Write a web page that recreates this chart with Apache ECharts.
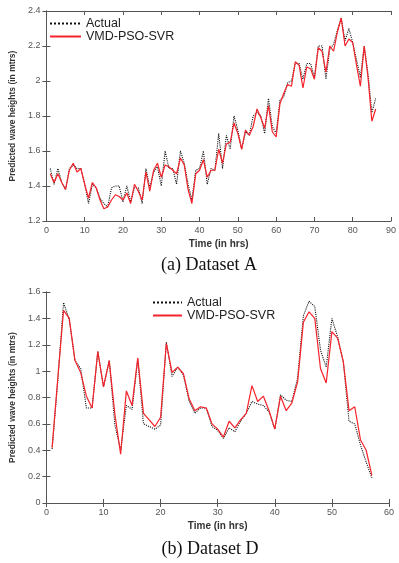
<!DOCTYPE html>
<html>
<head>
<meta charset="utf-8">
<script src="https://cdn.jsdelivr.net/npm/echarts@6/dist/echarts.min.js"></script>
<style>
  html, body { margin: 0; padding: 0; background: #fff; }
  #main { width: 399px; height: 563px; }
</style>
</head>
<body>
<div id="main"></div>
<script>
// Dataset A, hours 1..86
const actualA = [1.50, 1.41, 1.50, 1.42, 1.38, 1.50, 1.52, 1.50, 1.50, 1.41,
  1.30, 1.41, 1.39, 1.33, 1.30, 1.28, 1.39, 1.40, 1.40, 1.31,
  1.40, 1.31, 1.39, 1.39, 1.30, 1.50, 1.39, 1.48, 1.51, 1.40,
  1.60, 1.50, 1.50, 1.41, 1.60, 1.53, 1.41, 1.32, 1.49, 1.50,
  1.60, 1.41, 1.50, 1.49, 1.70, 1.50, 1.69, 1.61, 1.80, 1.72,
  1.61, 1.71, 1.69, 1.80, 1.82, 1.80, 1.70, 1.90, 1.74, 1.70,
  1.89, 1.91, 1.99, 2.00, 2.10, 2.10, 2.01, 2.10, 2.10, 2.02,
  2.20, 2.20, 2.01, 2.18, 2.21, 2.29, 2.36, 2.23, 2.30, 2.22,
  2.12, 2.02, 2.20, 2.04, 1.82, 1.90];
const predA = [1.47, 1.42, 1.47, 1.42, 1.38, 1.49, 1.53, 1.48, 1.50, 1.41,
  1.33, 1.42, 1.39, 1.32, 1.27, 1.28, 1.32, 1.35, 1.34, 1.32,
  1.36, 1.30, 1.41, 1.37, 1.32, 1.48, 1.37, 1.49, 1.53, 1.45,
  1.52, 1.51, 1.49, 1.47, 1.56, 1.52, 1.38, 1.30, 1.47, 1.49,
  1.55, 1.45, 1.49, 1.49, 1.61, 1.53, 1.64, 1.65, 1.76, 1.70,
  1.61, 1.72, 1.69, 1.74, 1.84, 1.79, 1.73, 1.86, 1.71, 1.68,
  1.87, 1.93, 1.98, 1.97, 2.11, 2.09, 1.96, 2.08, 2.07, 2.01,
  2.19, 2.17, 2.05, 2.20, 2.17, 2.28, 2.36, 2.20, 2.24, 2.22,
  2.09, 1.97, 2.20, 2.02, 1.77, 1.84];

// Dataset D, hours 1..57
const actualD = [0.41, 0.93, 1.52, 1.39, 1.08, 1.02, 0.72, 0.72, 1.15, 0.88,
  1.08, 0.59, 0.40, 0.74, 0.71, 1.09, 0.60, 0.58, 0.56, 0.59,
  1.22, 0.96, 1.03, 0.97, 0.77, 0.68, 0.72, 0.72, 0.58, 0.55,
  0.49, 0.57, 0.54, 0.62, 0.68, 0.77, 0.75, 0.74, 0.69, 0.56,
  0.82, 0.78, 0.77, 0.95, 1.42, 1.53, 1.49, 1.16, 1.03, 1.40,
  1.26, 1.07, 0.62, 0.60, 0.44, 0.31, 0.19];
const predD = [0.42, 0.95, 1.46, 1.40, 1.08, 0.99, 0.81, 0.72, 1.15, 0.88,
  1.08, 0.67, 0.37, 0.85, 0.74, 1.10, 0.68, 0.63, 0.58, 0.65,
  1.21, 0.99, 1.03, 0.98, 0.79, 0.70, 0.73, 0.72, 0.60, 0.56,
  0.50, 0.62, 0.57, 0.63, 0.68, 0.89, 0.77, 0.81, 0.70, 0.56,
  0.81, 0.70, 0.76, 0.92, 1.37, 1.45, 1.40, 1.02, 0.91, 1.30,
  1.25, 1.07, 0.70, 0.73, 0.48, 0.40, 0.21];

const seriesNames = ['Actual', 'VMD-PSO-SVR'];
const captions = ['(a) Dataset A', '(b) Dataset D'];
const xNameText = 'Time (in hrs)';
const yNameText = 'Predicted wave heights (in mtrs)';

const toPairs = arr => arr.map((v, i) => [i + 1, v]);

const chart = echarts.init(document.getElementById('main'));

const axisCol = '#555';
const tickFont = { color: '#555', fontSize: 9, fontFamily: 'Liberation Sans' };
const xNameFont = { color: '#333', fontSize: 10, fontWeight: 'bold', fontFamily: 'Liberation Sans' };
const yNameFont = { color: '#333', fontSize: 8.5, fontWeight: 'bold', fontFamily: 'Liberation Sans' };

function xAxes(gridIndex, max) {
  return [
    {
      type: 'value', gridIndex: gridIndex, min: 0, max: max, interval: 10,
      name: xNameText, nameLocation: 'middle', nameGap: 18, nameTextStyle: xNameFont,
      axisLine: { lineStyle: { color: axisCol, width: 1 } },
      axisTick: { inside: true, length: 4, lineStyle: { color: axisCol } },
      axisLabel: Object.assign({ margin: 5 }, tickFont),
      splitLine: { show: false }
    },
    {
      type: 'value', gridIndex: gridIndex, position: 'top', min: 0, max: max, interval: 10,
      axisLine: { lineStyle: { color: axisCol, width: 1 } },
      axisTick: { inside: true, length: 4, lineStyle: { color: axisCol } },
      axisLabel: { show: false },
      splitLine: { show: false }
    }
  ];
}

function yAxes(gridIndex, min, max) {
  return [
    {
      type: 'value', gridIndex: gridIndex, min: min, max: max, interval: 0.2,
      name: yNameText, nameLocation: 'middle', nameGap: 26, nameTextStyle: yNameFont,
      axisLine: { show: true, lineStyle: { color: axisCol, width: 1 } },
      axisTick: { show: true, inside: true, length: 4, lineStyle: { color: axisCol } },
      axisLabel: Object.assign({ margin: 6 }, tickFont),
      splitLine: { show: false }
    },
    {
      type: 'value', gridIndex: gridIndex, position: 'right', min: min, max: max, interval: 0.2,
      axisLine: { show: true, lineStyle: { color: axisCol, width: 1 } },
      axisTick: { show: true, inside: true, length: 4, lineStyle: { color: axisCol } },
      axisLabel: { show: false },
      splitLine: { show: false }
    }
  ];
}

function lineSeries(idx, name, data, isActual) {
  return {
    type: 'line', name: name,
    xAxisIndex: idx * 2, yAxisIndex: idx * 2,
    data: toPairs(data),
    symbol: 'none', animation: false,
    z: isActual ? 2 : 3,
    lineStyle: isActual
      ? { color: '#111', width: 1.1, type: 'dotted' }
      : { color: '#f5222a', width: 1.2 },
    itemStyle: { color: isActual ? '#111' : '#f5222a' }
  };
}

const legendText = { color: '#222', fontSize: 12.5, fontFamily: 'Liberation Sans' };

const option = {
  backgroundColor: '#fff',
  animation: false,
  grid: [
    { left: 40, top: 11, width: 354, height: 210 },
    { left: 41, top: 292, width: 348, height: 211 }
  ],
  xAxis: xAxes(0, 90).concat(xAxes(1, 60)),
  yAxis: yAxes(0, 1.2, 2.4).concat(yAxes(1, 0, 1.6)),
  legend: [
    {
      left: 49, top: 17, orient: 'vertical', itemWidth: 31, itemHeight: 8, itemGap: 0, itemTextGap: 3,
      textStyle: legendText, padding: 0, itemStyle: { opacity: 0 },
      data: seriesNames.map(n => ({ name: n })),
      selectedMode: false
    },
    {
      left: 152, top: 296, orient: 'vertical', itemWidth: 29, itemHeight: 8, itemGap: 0, itemTextGap: 3,
      textStyle: legendText, padding: 0, itemStyle: { opacity: 0 },
      data: seriesNames.map(n => ({ name: n + ' ' })),
      selectedMode: false
    }
  ],
  title: [
    {
      text: captions[0], left: 204, top: 251, textAlign: 'center',
      textStyle: { fontFamily: 'Liberation Serif', fontSize: 18, fontWeight: 'normal', color: '#111' }
    },
    {
      text: captions[1], left: 205, top: 535, textAlign: 'center',
      textStyle: { fontFamily: 'Liberation Serif', fontSize: 18, fontWeight: 'normal', color: '#111' }
    }
  ],
  series: [
    lineSeries(0, seriesNames[0], actualA, true),
    lineSeries(0, seriesNames[1], predA, false),
    lineSeries(1, seriesNames[0] + ' ', actualD, true),
    lineSeries(1, seriesNames[1] + ' ', predD, false)
  ]
};

chart.setOption(option);
</script>
</body>
</html>
